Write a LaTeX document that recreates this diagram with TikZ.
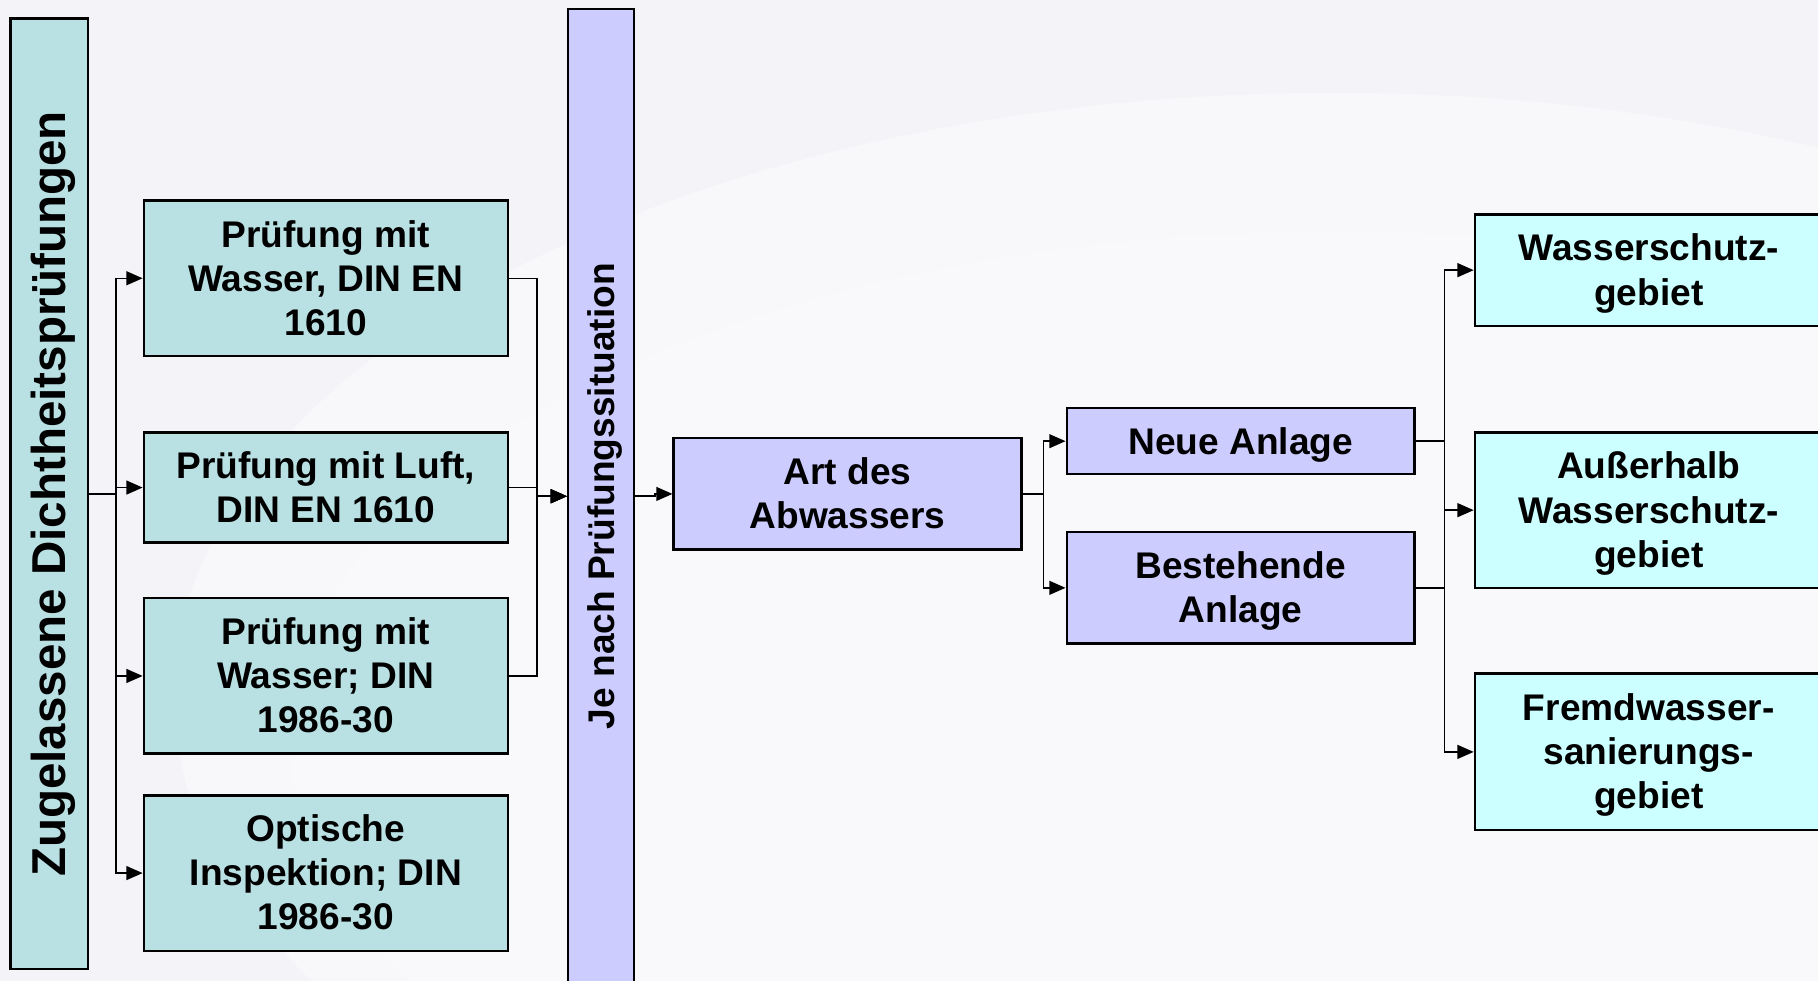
\documentclass[tikz,border=0pt]{standalone}
\usepackage{fontspec}
\setmainfont{Liberation Sans}
\usetikzlibrary{arrows.meta}
\definecolor{bgc}{RGB}{243,243,248}
\definecolor{tealbox}{RGB}{185,224,227}
\definecolor{lavbox}{RGB}{204,204,255}
\definecolor{cyanbox}{RGB}{204,255,255}
\newcommand{\pstrut}{\rule[-0.212em]{0pt}{1.117em}}
\begin{document}
\begin{tikzpicture}[x=1pt,y=-1pt,
  box/.style={draw=black, line width=2pt, font=\fontsize{32}{38}\selectfont\bfseries, align=center, inner sep=0pt},
  tbox/.style={box, fill=tealbox, minimum width=314pt, minimum height=134pt},
  lbox/.style={box, fill=lavbox, minimum width=300pt},
  cbox/.style={box, fill=cyanbox, minimum width=300pt},
  arr/.style={line width=1.3pt, -{Triangle[length=14pt,width=12pt]}},
  ln/.style={line width=1.3pt}]
\fill[bgc] (0,0) rectangle (1568,846);
\clip (0,0) rectangle (1568,846);
\fill[white, opacity=0.45] (1150,600) ellipse [x radius=1000pt, y radius=520pt];
\fill[white, opacity=0.25] (1150,640) ellipse [x radius=900pt, y radius=440pt];

% left column
\node[box, fill=tealbox, minimum width=67pt, minimum height=820pt,
      font=\fontsize{41}{49}\selectfont\bfseries] (L) at (42.5,426)
      {\rotatebox{90}{\pstrut Zugelassene Dichtheitsprüfungen}};
\node[tbox] (B1) at (281,240) {\pstrut Prüfung mit\\Wasser, DIN EN\\1610\pstrut};
\node[tbox, minimum height=95pt] (B2) at (281,420.5) {\pstrut Prüfung mit Luft,\\DIN EN 1610\pstrut};
\node[tbox] (B3) at (281,583) {\pstrut Prüfung mit\\Wasser; DIN\\1986-30\pstrut};
\node[tbox] (B4) at (281,753) {\pstrut Optische\\Inspektion; DIN\\1986-30\pstrut};

% second bar
\node[box, fill=lavbox, minimum width=57pt, minimum height=840pt] (J) at (518.5,428)
      {\rotatebox{90}{\pstrut Je nach Prüfungssituation}};

\node[lbox, minimum height=96pt] (A) at (731,426) {\pstrut Art des\\Abwassers\pstrut};
\node[lbox, minimum height=57pt] (N) at (1070,380.5) {\pstrut Neue Anlage\pstrut};
\node[lbox, minimum height=96pt] (Be) at (1070,507) {\pstrut Bestehende\\Anlage\pstrut};

\node[cbox, minimum height=96pt] (W) at (1422,233) {\pstrut Wasserschutz-\\gebiet\pstrut};
\node[cbox, minimum height=134pt] (Au) at (1422,440) {\pstrut Außerhalb\\Wasserschutz-\\gebiet\pstrut};
\node[cbox, minimum height=135pt] (F) at (1422,648.5) {\pstrut Fremdwasser-\\sanierungs-\\gebiet\pstrut};

% bus coordinates
\coordinate (busA) at (100,0);
\coordinate (busB) at (463,0);
\coordinate (busC) at (900,0);
\coordinate (busD) at (1246,0);

% connectors
\foreach \t in {B1,B2,B3,B4}
  \draw[arr] (L.east) -| (busA |- \t.west) -- (\t.west);
\foreach \s in {B1,B2,B3}
  \draw[arr] (\s.east) -| (busB |- J.west) -- (J.west);
\draw[arr] (J.east) -- ++(17pt,0) |- (A.west);
\foreach \t in {N,Be}
  \draw[arr] (A.east) -| (busC |- \t.west) -- (\t.west);
\foreach \t in {W,Au,F}
  \draw[arr] (N.east) -| (busD |- \t.west) -- (\t.west);
\draw[ln] (Be.east) -- (Be.east -| busD);
\end{tikzpicture}
\end{document}
